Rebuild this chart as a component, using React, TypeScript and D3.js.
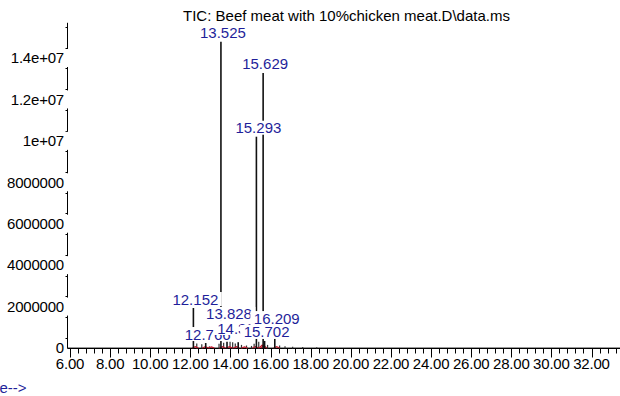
import React from "react";
import * as d3 from "d3";

const TITLE = "TIC: Beef meat with 10%chicken meat.D\\data.ms";
const X_AXIS_LABEL = "Time-->";

// Abundance axis
const yTickValues = [0, 2000000, 4000000, 6000000, 8000000, 10000000, 12000000, 14000000];
const yTickLabels = ["0", "2000000", "4000000", "6000000", "8000000", "1e+07", "1.2e+07", "1.4e+07"];

// Retention time axis (minutes)
const xTickValues = [6, 8, 10, 12, 14, 16, 18, 20, 22, 24, 26, 28, 30, 32];
const xTickLabels = ["6.00", "8.00", "10.00", "12.00", "14.00", "16.00", "18.00", "20.00", "22.00", "24.00", "26.00", "28.00", "30.00", "32.00"];

// Labelled peaks: retention time, apex abundance, label text, abundance level the label sits on
const peakTimes = [12.152, 12.766, 13.525, 13.828, 14.386, 15.293, 15.629, 15.702, 16.209];
const peakHeights = [1930000, 240000, 14780000, 300000, 280000, 10200000, 13280000, 340000, 550000];
const peakLabels = ["12.152", "12.766", "13.525", "13.828", "14.386", "15.293", "15.629", "15.702", "16.209"];
const labelLevels = [1930000, 240000, 14780000, 1210000, 530000, 10200000, 13280000, 340000, 1010000];

// Unlabelled minor peaks
const minorTimes = [12.32, 12.57, 12.95, 13.43, 13.66, 13.98, 14.11, 14.24, 14.55, 14.8, 15.05, 15.18, 15.41, 15.85, 16.45, 16.72, 17.1, 17.6, 18.3];
const minorHeights = [220000, 180000, 80000, 200000, 250000, 300000, 280000, 220000, 150000, 120000, 100000, 200000, 300000, 150000, 120000, 80000, 60000, 50000, 40000];

// Integration markers
const markTimes = [12.25, 12.75, 13.05, 13.6, 13.95, 14.3, 14.7, 15.25, 15.58, 15.66, 16.3];
const markHeights = [60000, 60000, 50000, 60000, 60000, 60000, 50000, 70000, 140000, 110000, 60000];

const FONT = "Liberation Sans, Arial, sans-serif";
const BLUE = "#1f1f9a";
const W = 620;
const H = 396;

function textWidth(s: string, size: number) {
  let w = 0;
  for (const c of s) {
    if (c === ".") w += 0.278;
    else if (c === "+") w += 0.584;
    else w += 0.556;
  }
  return w * size;
}

export default function App() {
  const x = d3.scaleLinear().domain([6, 32]).range([70, 591.5]);
  const y = d3.scaleLinear().domain([0, 14000000]).range([348, 58]);
  const axisX = 67.5;
  const baseY = y(0) + 0.5;
  const tMax = x.invert(W);

  const minorTicks = d3.range(6, tMax, 0.4).filter((t) => Math.abs(t / 2 - Math.round(t / 2)) > 0.01);
  const yMinor = d3.range(500000, 16000000, 1000000);

  const fs = 15;

  return (
    <svg width={W} height={H} style={{ position: "absolute", left: 0, top: 0, background: "#fff" }} fontFamily={FONT}>
      <rect width={W} height={H} fill="#fff" />
      <text x={346.5} y={21} fontSize={fs} textAnchor="middle" textLength={327} lengthAdjust="spacing" fill="#000">
        {TITLE}
      </text>

      {/* y axis */}
      <line x1={axisX} x2={axisX} y1={y(15700000)} y2={baseY} stroke="#000" strokeWidth={1} />
      {yMinor.map((v) => (
        <line key={"ym" + v} x1={axisX - 2} x2={axisX} y1={Math.round(y(v)) + 0.5} y2={Math.round(y(v)) + 0.5} stroke="#000" />
      ))}

      {/* baseline signal and x axis */}
      <line x1={axisX} x2={W} y1={baseY} y2={baseY} stroke="#000" strokeWidth={1} />
      <line x1={x(5.9)} x2={W} y1={baseY - 1} y2={baseY - 1} stroke="#999" strokeWidth={1.2} />
      {xTickValues.map((t) => (
        <line key={"xt" + t} x1={Math.round(x(t)) + 0.5} x2={Math.round(x(t)) + 0.5} y1={baseY} y2={baseY + 9} stroke="#000" />
      ))}
      {minorTicks.map((t) => (
        <line key={"xm" + t} x1={Math.round(x(t)) + 0.5} x2={Math.round(x(t)) + 0.5} y1={baseY} y2={baseY + 5} stroke="#000" />
      ))}
      {xTickValues.map((t, i) => (
        <text key={"xl" + t} x={x(t)} y={baseY + 20} fontSize={fs} textAnchor="middle" fill="#000" letterSpacing={-0.2}>
          {xTickLabels[i]}
        </text>
      ))}

      {/* minor peaks */}
      {minorTimes.map((t, i) => (
        <line key={"mp" + i} x1={x(t)} x2={x(t)} y1={baseY} y2={y(minorHeights[i])} stroke="#333" strokeWidth={1.2} />
      ))}
      {markTimes.map((t, i) => (
        <path
          key={"mk" + i}
          d={`M${x(t) - 3},${baseY - 0.5}L${x(t)},${y(markHeights[i])}L${x(t) + 3},${baseY - 0.5}`}
          fill="none"
          stroke="#c0182a"
          strokeWidth={1.2}
        />
      ))}

      {/* labelled peaks */}
      {peakTimes.map((t, i) => (
        <line key={"pk" + i} x1={x(t)} x2={x(t)} y1={baseY} y2={y(peakHeights[i])} stroke="#111" strokeWidth={1.6} />
      ))}

      {/* y tick labels with white backing */}
      {yTickValues.map((v, i) => {
        const cy = y(v);
        return (
          <g key={"yl" + v}>
            {v > 0 && <rect x={0} y={cy - 9} width={axisX + 1.5} height={18} fill="#fff" />}
            <text x={64} y={cy + 5.3} fontSize={fs} textAnchor="end" fill="#000" letterSpacing={-0.2}>
              {yTickLabels[i]}
            </text>
          </g>
        );
      })}

      {/* peak labels, drawn in order with white backing */}
      {peakTimes.map((t, i) => {
        const cx = x(t) + 2;
        const by = y(labelLevels[i]) - 3.5;
        const w = textWidth(peakLabels[i], fs);
        return (
          <g key={"pl" + i}>
            <rect x={cx - w / 2 - 3.5} y={by - 12.5} width={w + 7} height={14} fill="#fff" />
            <text x={cx} y={by} fontSize={fs} textAnchor="middle" fill={BLUE}>
              {peakLabels[i]}
            </text>
          </g>
        );
      })}

      <text x={-25} y={393} fontSize={fs} fill={BLUE}>
        {X_AXIS_LABEL}
      </text>
    </svg>
  );
}
